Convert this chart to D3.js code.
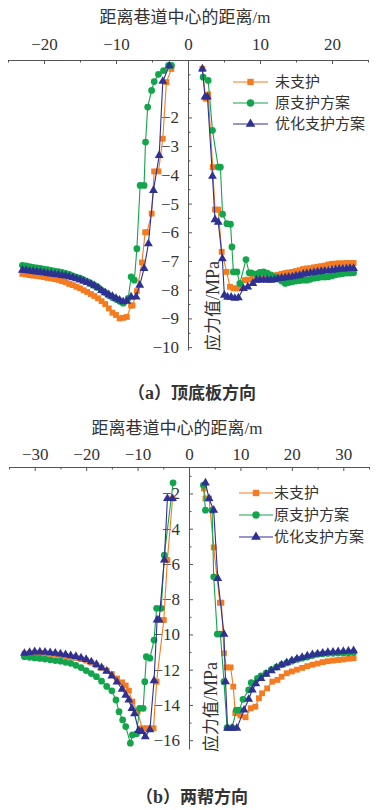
<!DOCTYPE html>
<html>
<head>
<meta charset="utf-8">
<script src="https://cdn.jsdelivr.net/npm/d3@7"></script>
<style>
    html, body { margin: 0; padding: 0; background: #fff; }
    svg text { fill: #333; }
</style>
</head>
<body>
<div id="chart"></div>
<script>
const SERIES = ['未支护', '原支护方案', '优化支护方案'];
const COLORS = ['#f47b20', '#13a54c', '#2e3192'];

const X_TITLE = '距离巷道中心的距离/m';
const A_CAPTION = ['a', '顶底板方向'];
const B_CAPTION = ['b', '两帮方向'];

// tick labels
const A_X_TICKS = [-20, -10, 0, 10, 20];
const A_Y_TICKS = [-2, -3, -4, -5, -6, -7, -8, -9, -10];
const B_X_TICKS = [-30, -20, -10, 0, 10, 20, 30];
const B_Y_TICKS = [-2, -4, -6, -8, -10, -12, -14, -16];

// (a) 顶底板方向: [distance m, stress MPa]
const A_UNSUP_L = [[-23, -7.45], [-22.5, -7.47], [-22, -7.49], [-21.5, -7.51], [-21, -7.52], [-20.5, -7.54], [-20, -7.56],
    [-19.5, -7.59], [-19, -7.61], [-18.5, -7.63], [-18, -7.66], [-17.5, -7.7], [-17, -7.74], [-16.5, -7.8], [-16, -7.84],
    [-15.5, -7.9], [-15, -7.95], [-14.5, -8.02], [-14, -8.08], [-13.5, -8.15], [-13, -8.22], [-12.5, -8.3], [-12, -8.4],
    [-11.5, -8.5], [-11, -8.65], [-10.5, -8.8], [-10, -8.88], [-9.5, -9.0], [-9, -8.98], [-8.5, -8.95], [-7.9, -8.55],
    [-7.7, -8.55], [-7.1, -8.05], [-6.4, -7.05], [-5.95, -6.0], [-5.7, -6.0], [-5.05, -5.35], [-4.7, -3.88], [-4.1, -3.88],
    [-3.5, -2.74], [-3.0, -0.77], [-2.3, -0.31]];
const A_ORIG_L = [[-23, -7.15], [-22.5, -7.17], [-22, -7.2], [-21.5, -7.22], [-21, -7.24], [-20.5, -7.26], [-20, -7.28],
    [-19.5, -7.3], [-19, -7.33], [-18.5, -7.35], [-18, -7.37], [-17.5, -7.4], [-17, -7.43], [-16.5, -7.47], [-16, -7.52],
    [-15.5, -7.56], [-15, -7.6], [-14.5, -7.66], [-14, -7.72], [-13.5, -7.78], [-13, -7.85], [-12.5, -7.92], [-12, -8.02],
    [-11.5, -8.1], [-11, -8.2], [-10.5, -8.27], [-10, -8.33], [-9.5, -8.4], [-9, -8.47], [-8.3, -8.3], [-7.9, -7.55],
    [-7.45, -7.67], [-7.1, -6.57], [-6.65, -4.37], [-6.1, -4.37], [-5.9, -2.86], [-5.6, -1.64], [-5.05, -1.06],
    [-4.7, -0.75], [-4.1, -0.5], [-3.4, -0.37], [-2.7, -0.19], [-2.3, -0.19]];
const A_OPT_L = [[-23, -7.32], [-22.5, -7.33], [-22, -7.35], [-21.5, -7.36], [-21, -7.38], [-20.5, -7.39], [-20, -7.41],
    [-19.5, -7.43], [-19, -7.45], [-18.5, -7.47], [-18, -7.48], [-17.5, -7.5], [-17, -7.52], [-16.5, -7.55], [-16, -7.58],
    [-15.5, -7.62], [-15, -7.66], [-14.5, -7.7], [-14, -7.75], [-13.5, -7.8], [-13, -7.86], [-12.5, -7.93], [-12, -8.03],
    [-11.5, -8.1], [-11, -8.17], [-10.5, -8.23], [-10, -8.3], [-9.5, -8.36], [-9, -8.42], [-8.5, -8.4], [-7.9, -8.25],
    [-7.2, -8.25], [-6.7, -7.84], [-6.1, -7.26], [-5.5, -6.4], [-4.8, -4.54], [-4.0, -3.32], [-3.5, -0.74], [-2.6, -0.2]];
const A_UNSUP_R = [[2.0, -0.31], [2.45, -1.35], [2.8, -1.2], [3.43, -3.73], [3.75, -5.21], [4.2, -5.21], [4.68, -6.68],
    [5.37, -7.38], [5.83, -7.9], [6.3, -7.95], [6.8, -7.95], [7.3, -7.95], [7.9, -7.67], [8.3, -7.65], [9, -7.62],
    [9.5, -7.6], [10, -7.58], [10.5, -7.55], [11, -7.54], [11.5, -7.52], [12, -7.5], [12.5, -7.48], [13, -7.45],
    [13.5, -7.42], [14, -7.4], [14.5, -7.38], [15, -7.35], [15.5, -7.32], [16, -7.28], [16.5, -7.26], [17, -7.25],
    [17.5, -7.22], [18, -7.2], [18.5, -7.18], [19, -7.16], [19.5, -7.12], [20, -7.1], [20.5, -7.09], [21, -7.08],
    [21.5, -7.08], [22, -7.07], [22.5, -7.07], [23, -7.07]];
const A_ORIG_R = [[2.1, -0.6], [2.8, -0.71], [3.4, -2.45], [4.2, -3.73], [4.5, -3.73], [4.8, -5.37], [5.4, -5.7],
    [5.9, -5.72], [6.1, -6.51], [6.3, -7.38], [6.8, -7.38], [7.2, -7.78], [8.05, -6.95], [8.5, -7.41], [8.8, -7.41],
    [9.5, -7.45], [10, -7.4], [10.5, -7.38], [11, -7.42], [11.5, -7.48], [12, -7.55], [12.5, -7.6], [13, -7.7],
    [13.5, -7.78], [14, -7.75], [14.5, -7.72], [15, -7.7], [15.5, -7.68], [16, -7.67], [16.5, -7.67], [17, -7.64],
    [17.5, -7.6], [18, -7.58], [18.5, -7.56], [19, -7.56], [19.5, -7.55], [20, -7.52], [20.5, -7.48], [21, -7.46],
    [21.5, -7.44], [22, -7.42], [22.5, -7.42], [23, -7.41]];
const A_OPT_R = [[2.0, -0.31], [2.36, -1.29], [2.7, -1.29], [3.4, -4.05], [3.75, -5.56], [4.2, -5.65], [4.77, -6.92],
    [5.05, -8.19], [5.5, -8.26], [6.0, -8.26], [6.5, -8.3], [7.0, -8.28], [7.7, -7.96], [8.3, -7.9], [9, -7.78],
    [9.5, -7.67], [10, -7.66], [10.5, -7.66], [11, -7.66], [11.5, -7.67], [12, -7.65], [12.5, -7.62], [13, -7.6],
    [13.5, -7.58], [14, -7.56], [14.5, -7.55], [15, -7.52], [15.5, -7.5], [16, -7.46], [16.5, -7.44], [17, -7.42],
    [17.5, -7.4], [18, -7.38], [18.5, -7.36], [19, -7.35], [19.5, -7.34], [20, -7.32], [20.5, -7.3], [21, -7.28],
    [21.5, -7.28], [22, -7.27], [22.5, -7.26], [23, -7.26]];

// (b) 两帮方向
const B_UNSUP_L = [[-32, -11.1], [-31, -11.07], [-30, -11.04], [-29, -11.05], [-28, -11.07], [-27, -11.1], [-26, -11.13],
    [-25, -11.17], [-24, -11.22], [-23, -11.28], [-22, -11.33], [-21, -11.4], [-20, -11.48], [-19, -11.6], [-18, -11.75],
    [-17, -11.9], [-16, -12.05], [-15, -12.25], [-14, -12.5], [-13, -12.72], [-12.3, -12.9], [-11.7, -13.19],
    [-11, -13.81], [-10, -14.38], [-9.1, -15.32], [-8.2, -15.32], [-6.9, -15.32], [-6.3, -12.68], [-4.9, -9.18],
    [-4.2, -5.78], [-3.2, -2.29]];
const B_ORIG_L = [[-32, -11.26], [-31, -11.3], [-30, -11.33], [-29, -11.36], [-28, -11.4], [-27, -11.44], [-26, -11.48],
    [-25, -11.52], [-24, -11.58], [-23, -11.64], [-22, -11.75], [-21, -11.88], [-20, -12.05], [-19, -12.22], [-18, -12.4],
    [-17, -12.65], [-16, -12.95], [-15, -13.2], [-14.2, -13.72], [-13.6, -14.38], [-12.9, -14.85], [-12.3, -15.23],
    [-11.4, -16.17], [-11, -15.7], [-10.2, -15.64], [-9.6, -14.19], [-8.9, -14.19], [-8.6, -12.68], [-8.3, -11.26],
    [-7.6, -11.35], [-6.8, -10.32], [-6.3, -8.52], [-5.4, -8.52], [-4.8, -5.5], [-3.1, -1.4]];
const B_OPT_L = [[-32, -11.07], [-31, -11.02], [-30, -10.98], [-29, -10.99], [-28, -11.0], [-27, -11.03], [-26, -11.06],
    [-25, -11.1], [-24, -11.15], [-23, -11.2], [-22, -11.25], [-21, -11.33], [-20, -11.42], [-19, -11.55], [-18, -11.7],
    [-17, -11.88], [-16, -12.08], [-15, -12.35], [-14, -12.7], [-13, -13.1], [-12.3, -13.45], [-11.7, -13.72],
    [-11.1, -14.2], [-10.6, -14.5], [-9.8, -15.45], [-9.2, -15.5], [-8.5, -15.8], [-7.6, -15.4], [-6.8, -12.62],
    [-6.2, -9.18], [-5.8, -9.18], [-4.8, -5.78], [-4.2, -2.29], [-3.2, -2.29]];
const B_UNSUP_R = [[2.9, -1.72], [3.2, -2.29], [3.9, -2.29], [4.8, -5.06], [6.0, -8.2], [6.3, -8.2], [6.8, -11.07],
    [7.3, -11.87], [8.1, -11.87], [8.6, -12.96], [9.0, -14.47], [10, -14.6], [11, -14.7], [12, -14.19], [12.9, -14.1],
    [13.6, -13.62], [14.2, -13.34], [15.2, -13.06], [16.2, -12.68], [17.2, -12.58], [18, -12.4], [19, -12.2], [20, -12.1],
    [21, -12.0], [22, -11.9], [23, -11.8], [24, -11.72], [25, -11.65], [26, -11.57], [27, -11.52], [28, -11.48],
    [29, -11.45], [30, -11.42], [31, -11.38], [32, -11.35]];
const B_ORIG_R = [[2.8, -1.53], [3.2, -2.95], [4.5, -2.95], [4.8, -6.73], [5.5, -9.98], [6.1, -9.98], [6.8, -12.68],
    [7.4, -15.29], [8.4, -15.29], [9.2, -14.29], [9.8, -14.29], [10.5, -13.68], [11.6, -13.15], [12.1, -12.74],
    [13.3, -12.49], [14, -12.35], [15, -12.2], [16, -12.0], [17, -11.85], [18, -11.72], [19, -11.62], [20, -11.52],
    [21, -11.42], [22, -11.35], [23, -11.28], [24, -11.2], [25, -11.13], [26, -11.1], [27, -11.08], [28, -11.07],
    [29, -11.06], [30, -11.05], [31, -11.04], [32, -11.02]];
const B_OPT_R = [[3.2, -1.4], [3.9, -2.29], [4.8, -2.95], [5.6, -6.82], [6.8, -9.98], [7.1, -12.68], [7.5, -15.32],
    [8.4, -15.32], [9.3, -15.32], [10.7, -14.29], [11.6, -13.68], [12.3, -13.15], [13, -12.8], [14, -12.5],
    [15, -12.25], [16, -12.05], [17, -11.88], [18, -11.72], [19, -11.6], [20, -11.48], [21, -11.38], [22, -11.3],
    [23, -11.22], [24, -11.15], [25, -11.1], [26, -11.06], [27, -11.02], [28, -11.0], [29, -10.98], [30, -10.96],
    [31, -10.94], [32, -10.92]];

const WIDTH = 388;
const HEIGHT = 810;
const SERIF = "'Liberation Serif', 'DejaVu Serif', serif";
const CJK = "'Noto Sans CJK SC', sans-serif";
const SYMBOLS = [d3.symbolSquare, d3.symbolCircle, d3.symbolTriangle];
const SYMBOL_SIZES = [34, 36, 34];

const panels = [
    {
        xDomain: [-25, 25], xRange: [8, 368],
        yDomain: [0, -10.1], yRange: [60, 350],
        xTicks: A_X_TICKS, xMinor: d3.range(-25, 26, 5).filter((v) => v % 10 !== 0),
        yTicks: A_Y_TICKS, yMinor: d3.range(-0.5, -10.1, -0.5).filter((v) => !A_Y_TICKS.includes(v)),
        xPad: 10, yPad: 9,
        titleX: 185, titleY: 23,
        yTitleX: 213, yTitleY: 306,
        legend: { x0: 233, x1: 268, tx: 275, ys: [82, 103, 124] },
        caption: A_CAPTION, captionY: 399,
        series: [[A_UNSUP_L, A_UNSUP_R], [A_ORIG_L, A_ORIG_R], [A_OPT_L, A_OPT_R]],
    },
    {
        xDomain: [-35, 35], xRange: [9, 369],
        yDomain: [-0.5, -16.5], yRange: [467, 749],
        xTicks: B_X_TICKS, xMinor: d3.range(-35, 36, 5).filter((v) => v % 10 !== 0),
        yTicks: B_Y_TICKS, yMinor: d3.range(-1, -16.6, -1).filter((v) => !B_Y_TICKS.includes(v)),
        xPad: 7, yPad: 9,
        titleX: 177, titleY: 434,
        yTitleX: 211, yTitleY: 707,
        legend: { x0: 239, x1: 273, tx: 274, ys: [493, 515, 537] },
        caption: B_CAPTION, captionY: 803,
        series: [[B_UNSUP_L, B_UNSUP_R], [B_ORIG_L, B_ORIG_R], [B_OPT_L, B_OPT_R]],
    },
];

const svg = d3
    .select('#chart')
    .append('svg')
    .attr('width', WIDTH)
    .attr('height', HEIGHT)
    .attr('viewBox', [0, 0, WIDTH, HEIGHT]);

svg.append('rect').attr('width', WIDTH).attr('height', HEIGHT).attr('fill', '#fff');

panels.forEach((p) => drawPanel(p));

function drawPanel(p) {
    const x = d3.scaleLinear().domain(p.xDomain).range(p.xRange);
    const y = d3.scaleLinear().domain(p.yDomain).range(p.yRange);
    const g = svg.append('g');
    const x0 = x(0);
    const yTop = p.yRange[0];

    // top x axis, ticks pointing down into the plot
    const xAxis = g.append('g').attr('transform', `translate(0,${yTop})`);
    xAxis.call(d3.axisTop(x).tickValues(p.xTicks).tickSizeInner(-4).tickSizeOuter(0).tickPadding(p.xPad));
    g.append('g')
        .attr('transform', `translate(0,${yTop})`)
        .call(d3.axisTop(x).tickValues(p.xMinor).tickSizeInner(-2.5).tickSizeOuter(0).tickFormat(''))
        .select('.domain')
        .remove();

    // y axis through x = 0, ticks to the right
    const yAxis = g.append('g').attr('transform', `translate(${x0},0)`);
    yAxis.call(d3.axisLeft(y).tickValues(p.yTicks).tickSizeInner(-4).tickSizeOuter(0).tickPadding(p.yPad));
    g.append('g')
        .attr('transform', `translate(${x0},0)`)
        .call(d3.axisLeft(y).tickValues(p.yMinor).tickSizeInner(-2.5).tickSizeOuter(0).tickFormat(''))
        .select('.domain')
        .remove();

    g.selectAll('.domain, .tick line').attr('stroke', '#555').attr('stroke-width', 1);
    g.selectAll('.tick text').attr('font-family', SERIF).attr('font-size', 17).attr('fill', '#333');

    // axis titles
    g.append('text')
        .attr('x', p.titleX)
        .attr('y', p.titleY)
        .attr('text-anchor', 'middle')
        .attr('font-family', CJK)
        .attr('font-size', 17)
        .text(X_TITLE.replace('/m', ''))
        .append('tspan')
        .attr('font-family', SERIF)
        .text('/m');

    const yTitle = g
        .append('text')
        .attr('transform', `translate(${p.yTitleX},${p.yTitleY}) rotate(-90)`)
        .attr('text-anchor', 'middle')
        .attr('dy', '0.35em')
        .attr('font-family', CJK)
        .attr('font-size', 17)
        .text('应力值');
    yTitle.append('tspan').attr('font-family', SERIF).attr('font-size', 18).text('/MPa');

    // curves
    const line = d3
        .line()
        .x((d) => x(d[0]))
        .y((d) => y(d[1]));

    p.series.forEach((branches, i) => {
        const sg = g.append('g');
        branches.forEach((pts) => {
            sg.append('path')
                .attr('d', line(pts))
                .attr('fill', 'none')
                .attr('stroke', COLORS[i])
                .attr('stroke-width', 1.1);
            sg.selectAll(null)
                .data(pts)
                .join('path')
                .attr('transform', (d) => `translate(${x(d[0])},${y(d[1])})`)
                .attr('d', d3.symbol(SYMBOLS[i], SYMBOL_SIZES[i]))
                .attr('fill', COLORS[i]);
        });
    });

    // legend
    const lg = g.append('g');
    SERIES.forEach((name, i) => {
        const ly = p.legend.ys[i];
        lg.append('line')
            .attr('x1', p.legend.x0)
            .attr('x2', p.legend.x1)
            .attr('y1', ly)
            .attr('y2', ly)
            .attr('stroke', COLORS[i])
            .attr('stroke-width', 1.1);
        lg.append('path')
            .attr('transform', `translate(${(p.legend.x0 + p.legend.x1) / 2},${ly})`)
            .attr('d', d3.symbol(SYMBOLS[i], SYMBOL_SIZES[i] * 1.2))
            .attr('fill', COLORS[i]);
        lg.append('text')
            .attr('x', p.legend.tx)
            .attr('y', ly)
            .attr('dy', '0.36em')
            .attr('font-family', CJK)
            .attr('font-size', 15)
            .text(name);
    });

    // caption
    const cap = svg
        .append('text')
        .attr('x', 192)
        .attr('y', p.captionY)
        .attr('text-anchor', 'middle')
        .attr('font-family', CJK)
        .attr('font-weight', 'bold')
        .attr('font-size', 17)
        .text('（');
    cap.append('tspan').attr('font-family', SERIF).attr('font-size', 18).text(p.caption[0]);
    cap.append('tspan').text('）' + p.caption[1]);
}
</script>
</body>
</html>
